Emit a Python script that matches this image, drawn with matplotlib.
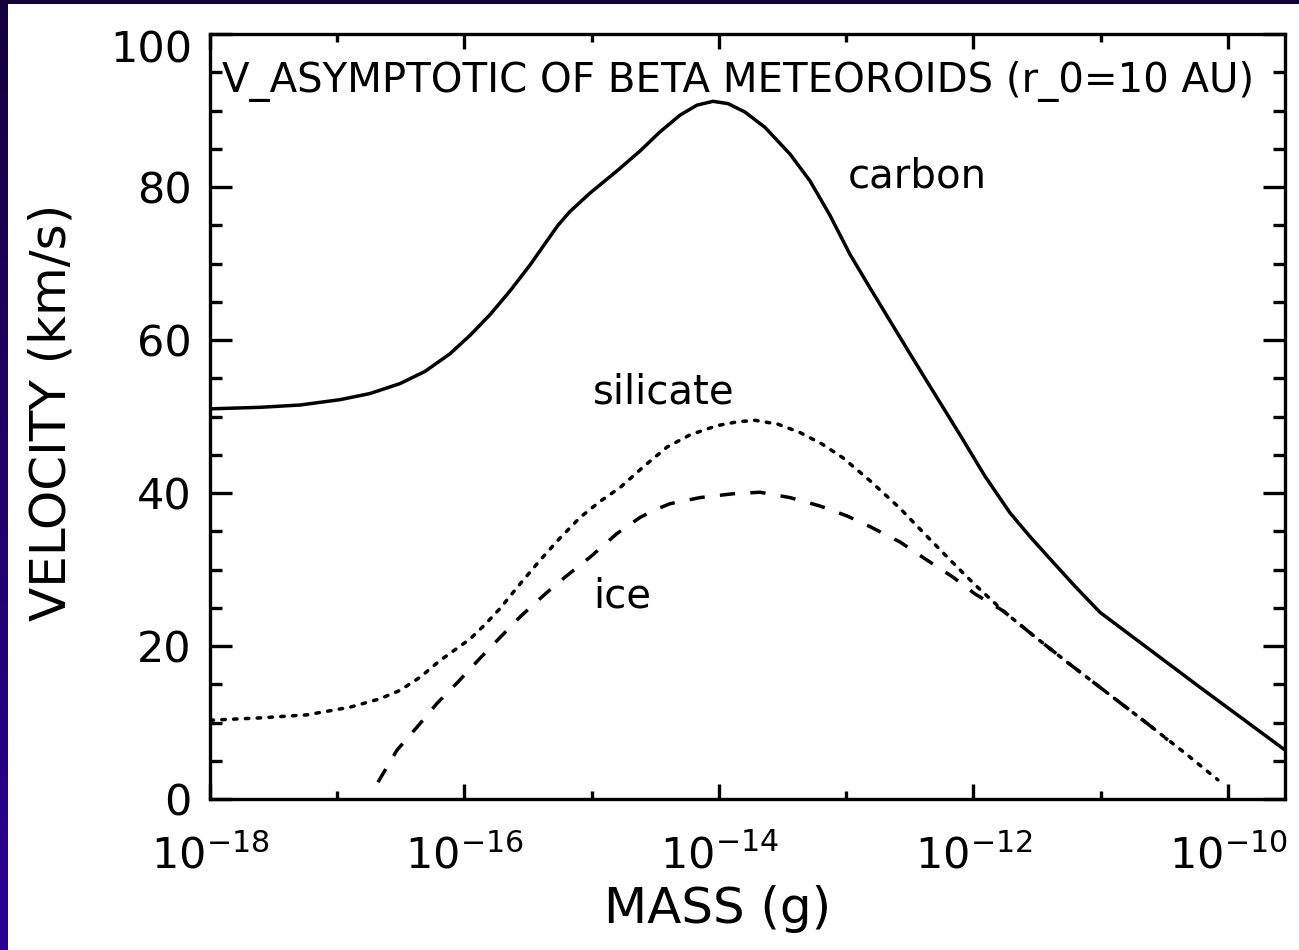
import numpy as np
import matplotlib
matplotlib.use("Agg")
import matplotlib.pyplot as plt
from matplotlib.ticker import FixedLocator, NullFormatter, MultipleLocator
from matplotlib.patches import Rectangle

# log10 of particle mass (g) and asymptotic velocity (km/s)
carbon_logm = [-18.000, -17.607, -17.293, -16.978, -16.743, -16.507, -16.310, -16.114,
               -15.957, -15.800, -15.643, -15.485, -15.367, -15.265, -15.171, -15.014,
               -14.802, -14.621, -14.464, -14.306, -14.173, -14.047, -13.929, -13.796,
               -13.639, -13.442, -13.285, -13.128, -12.971, -12.813, -12.656, -12.499,
               -12.303, -12.106, -11.910, -11.713, -11.556, -11.399, -11.202, -11.006,
               -10.220, -9.552]
carbon_v = [51.0, 51.2, 51.5, 52.2, 53.0, 54.3, 55.9, 58.2,
            60.6, 63.3, 66.4, 69.8, 72.6, 75.0, 76.8, 79.2,
            82.1, 84.7, 87.2, 89.4, 90.7, 91.2, 90.9, 89.8,
            87.8, 84.3, 80.8, 76.3, 71.2, 66.8, 62.5, 58.2,
            52.9, 47.6, 42.2, 37.4, 34.3, 31.4, 27.8, 24.4,
            14.6, 6.4]

silicate_logm = [-18.000, -17.607, -17.238, -16.900, -16.664, -16.507, -16.350, -16.193,
                 -16.075, -15.957, -15.839, -15.721, -15.564, -15.407, -15.250, -15.092,
                 -14.935, -14.778, -14.582, -14.409, -14.228, -14.016, -13.859, -13.717,
                 -13.537, -13.363, -13.190, -13.026, -12.813, -12.578, -12.381, -12.169,
                 -11.988, -11.768, -11.517, -11.265, -10.951, -10.637, -10.338, -10.079]
silicate_v = [10.3, 10.6, 11.0, 12.0, 13.1, 14.2, 15.9, 18.1,
              19.5, 20.9, 22.8, 24.9, 28.1, 31.2, 34.1, 36.8,
              38.9, 40.7, 43.6, 46.0, 47.6, 48.8, 49.3, 49.5,
              49.0, 47.9, 46.4, 44.6, 41.6, 38.0, 34.6, 31.0,
              28.0, 24.6, 21.2, 17.9, 13.9, 9.9, 6.0, 2.5]

ice_logm = [-16.680, -16.530, -16.373, -16.216, -16.051, -15.878, -15.721, -15.564,
            -15.446, -15.352, -15.210, -15.014, -14.802, -14.621, -14.503, -14.385,
            -14.149, -13.890, -13.678, -13.442, -13.206, -12.994, -12.813, -12.578,
            -12.381, -12.161, -11.988, -11.768, -11.517, -11.265, -10.951, -10.637,
            -10.472]
ice_v = [2.2, 6.4, 9.4, 12.5, 15.3, 18.4, 21.1, 23.8,
         25.6, 27.0, 29.0, 31.6, 34.7, 36.8, 37.8, 38.6,
         39.4, 39.9, 40.1, 39.4, 38.3, 37.0, 35.6, 33.6,
         31.4, 29.0, 26.8, 24.6, 21.2, 17.9, 13.9, 9.9,
         7.7]

x_major = [1e-18, 1e-16, 1e-14, 1e-12, 1e-10]
x_minor = [1e-17, 1e-15, 1e-13, 1e-11]
x_labels = [r"$10^{-18}$", r"$10^{-16}$", r"$10^{-14}$", r"$10^{-12}$", r"$10^{-10}$"]
y_major = [0, 20, 40, 60, 80, 100]
y_labels = ["0", "20", "40", "60", "80", ""]

W, H = 1299, 950
plt.rcParams["font.family"] = ["DejaVu Sans"]
fig = plt.figure(figsize=(W / 100, H / 100), dpi=100, facecolor="white")

# dark frame strips on the left and top edges
strip = fig.add_axes([0, 0, 8 / W, 1])
grad = np.linspace(0, 1, 256).reshape(-1, 1)
top_c = np.array([0x15, 0x00, 0x3e]) / 255
bot_c = np.array([0x2b, 0x00, 0x95]) / 255
img = top_c[None, None, :] * (1 - grad[:, :, None]) + bot_c[None, None, :] * grad[:, :, None]
strip.imshow(img, aspect="auto", extent=[0, 1, 0, 1], origin="upper")
strip.set_axis_off()
fig.add_artist(Rectangle((0, 1 - 3.5 / H), 1, 3.5 / H, transform=fig.transFigure,
                         facecolor="#120036", edgecolor="none", zorder=5))

ax = fig.add_axes([210 / W, 151 / H, 1075 / W, 765 / H])
lw = 2.5
ax.plot(10 ** np.array(carbon_logm), carbon_v, color="black", lw=lw, ls="-",
        solid_joinstyle="round")
ax.plot(10 ** np.array(silicate_logm), silicate_v, color="black", lw=lw,
        ls=(0, (1.0, 2.4)), dash_capstyle="round")
ax.plot(10 ** np.array(ice_logm), ice_v, color="black", lw=lw, ls=(0, (4.4, 4.4)))

ax.set_xscale("log")
ax.set_xlim(1e-18, 10 ** -9.552)
ax.set_ylim(0, 100)

ax.xaxis.set_major_locator(FixedLocator(x_major))
ax.xaxis.set_minor_locator(FixedLocator(x_minor))
ax.xaxis.set_minor_formatter(NullFormatter())
ax.set_xticklabels(x_labels)
ax.yaxis.set_major_locator(FixedLocator(y_major))
ax.yaxis.set_minor_locator(MultipleLocator(5))
ax.set_yticklabels(y_labels)

for s in ax.spines.values():
    s.set_linewidth(2.4)

ax.tick_params(axis="x", which="major", direction="in", length=11, width=2.4,
               top=True, labelsize=31, pad=26)
ax.tick_params(axis="x", which="minor", direction="in", length=5.5, width=2.4, top=True)
ax.tick_params(axis="y", which="major", direction="in", length=15.5, width=2.4,
               right=True, labelsize=31, pad=13)
ax.tick_params(axis="y", which="minor", direction="in", length=8.5, width=2.4, right=True)

# top y label sits just below the frame corner
ax.text(-18 / 1075, 100 - 16 / 7.65, "100", fontsize=31, ha="right", va="center",
        transform=ax.get_yaxis_transform())

ax.set_xlabel("MASS (g)", fontsize=36)
ax.xaxis.set_label_coords((718 - 210) / 1075, -0.112)
ax.set_ylabel("VELOCITY (km/s)", fontsize=36)
ax.yaxis.set_label_coords(-0.125, 0.505)

ax.text(0.011, 100 - (92 - 34) / 7.65, "V_ASYMPTOTIC OF BETA METEOROIDS (r_0=10 AU)",
        transform=ax.get_yaxis_transform(), fontsize=29, va="baseline", ha="left")

ax.text(10 ** -12.99, 100 - (187 - 34) / 7.65, "carbon", fontsize=29, va="baseline", ha="left")
ax.text(10 ** -14.99, 100 - (403 - 34) / 7.65, "silicate", fontsize=29, va="baseline", ha="left")
ax.text(10 ** -14.99, 100 - (608 - 34) / 7.65, "ice", fontsize=29, va="baseline", ha="left")

fig.savefig("out.png", dpi=100, facecolor="white")
